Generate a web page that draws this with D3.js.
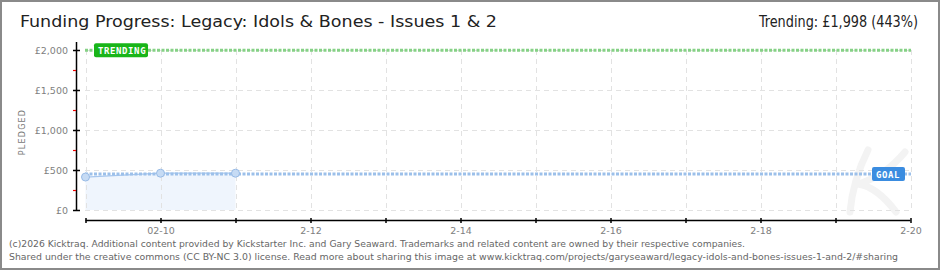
<!DOCTYPE html>
<html>
<head>
<meta charset="utf-8">
<script src="https://cdn.jsdelivr.net/npm/d3@7"></script>
<style>
  html, body { margin: 0; padding: 0; background: #fff; }
  svg { display: block; }
</style>
</head>
<body>
<svg id="chart"></svg>
<script>
// chart values
const pledgeDates = ["2026-02-09", "2026-02-10", "2026-02-11"];
const pledgeValues = [412, 460, 460];
const goalValue = 451;
const trendingValue = 1998;
const yTicks = [0, 500, 1000, 1500, 2000];
const yMinorTicks = [250, 750, 1250, 1750];
const xTickLabels = ["02-10", "2-12", "2-14", "2-16", "2-18", "2-20"];
const xDomain = ["2026-02-09", "2026-02-20"];
const titleText = "Funding Progress: Legacy: Idols & Bones - Issues 1 & 2";
const trendText = "Trending:  £1,998 (443%)";
const footerLines = [
  "(c)2026 Kicktraq. Additional content provided by Kickstarter Inc. and Gary Seaward. Trademarks and related content are owned by their respective companies.",
  "Shared under the creative commons (CC BY-NC 3.0) license. Read more about sharing this image at www.kicktraq.com/projects/garyseaward/legacy-idols-and-bones-issues-1-and-2/#sharing"
];

const w = 940, h = 270;
const svg = d3.select("#chart").attr("width", w).attr("height", h);
const parse = d3.timeParse("%Y-%m-%d");

const x = d3.scaleTime().domain(xDomain.map(parse)).range([85.5, 910.5]);
const y = d3.scaleLinear().domain([0, 2000]).range([210, 50]);

// frame
svg.append("rect")
  .attr("x", 1).attr("y", 1).attr("width", w - 2).attr("height", h - 2)
  .attr("fill", "#fff").attr("stroke", "#8a8a8a").attr("stroke-width", 2);

// watermark (faint script K)
svg.append("path")
  .attr("d", "M868,150 C858,170 852,190 850,212 M905,152 C890,170 872,180 858,184 C872,186 884,196 896,212")
  .attr("fill", "none").attr("stroke", "#f3f3f3").attr("stroke-width", 7)
  .attr("stroke-linecap", "round");

// grid
const days = d3.timeDay.range(parse(xDomain[0]), d3.timeDay.offset(parse(xDomain[1]), 1));
const grid = svg.append("g").attr("stroke", "#e2e2e2").attr("stroke-dasharray", "5,4");
grid.selectAll(".vg").data(days).join("line")
  .attr("x1", d => Math.round(x(d)) + 0.5).attr("x2", d => Math.round(x(d)) + 0.5)
  .attr("y1", 50).attr("y2", 210);
grid.selectAll(".hg").data(yTicks).join("line")
  .attr("x1", 85).attr("x2", 911)
  .attr("y1", d => Math.round(y(d)) + 0.5).attr("y2", d => Math.round(y(d)) + 0.5);

// pledged area
const pts = pledgeDates.map((d, i) => ({ date: parse(d), value: pledgeValues[i] }));
svg.append("path").datum(pts)
  .attr("fill", "#edf4fd").attr("fill-opacity", 0.9)
  .attr("d", d3.area().x(d => x(d.date)).y0(y(0)).y1(d => y(d.value)));
grid.raise();

// trending line
svg.append("line")
  .attr("x1", 85).attr("x2", 911).attr("y1", y(trendingValue)).attr("y2", y(trendingValue))
  .attr("stroke", "#86d186").attr("stroke-width", 3).attr("stroke-dasharray", "3,1.5");

// pledge line
svg.append("path").datum(pts)
  .attr("fill", "none").attr("stroke", "#a8c7ee").attr("stroke-width", 1.2)
  .attr("d", d3.line().x(d => x(d.date)).y(d => y(d.value)));

// goal line
svg.append("line")
  .attr("x1", 85).attr("x2", 911).attr("y1", y(goalValue)).attr("y2", y(goalValue))
  .attr("stroke", "#9cc0ea").attr("stroke-width", 3).attr("stroke-dasharray", "3,1.5");

// points
svg.selectAll(".pt").data(pts).join("circle")
  .attr("cx", d => x(d.date)).attr("cy", d => y(d.value)).attr("r", 4)
  .attr("fill", "#c6dbf4").attr("stroke", "#98bbe6").attr("stroke-width", 1);

// labels on lines
function tag(xl, yc, wd, fill, label) {
  svg.append("rect").attr("x", xl).attr("y", yc - 7).attr("width", wd).attr("height", 14)
    .attr("rx", 2).attr("fill", fill);
  svg.append("text").attr("x", xl + 4).attr("y", yc + 4)
    .attr("font-family", "DejaVu Sans Mono").attr("font-weight", "bold")
    .attr("font-size", 9).attr("fill", "#fff").attr("letter-spacing", 0.6)
    .text(label);
}
tag(94, y(trendingValue), 54, "#19b519", "TRENDING");
tag(872, y(goalValue), 33, "#3a8ce0", "GOAL");

// y axis
const yAxis = svg.append("g").attr("transform", "translate(76,0)");
yAxis.append("line").attr("x1", 0.5).attr("x2", 0.5).attr("y1", y(2000) - 8).attr("y2", y(0))
  .attr("stroke", "#000").attr("stroke-width", 1.5);
yAxis.selectAll(".yt").data(yTicks).join("line")
  .attr("x1", -3).attr("x2", 4)
  .attr("y1", d => Math.round(y(d)) + 0.5).attr("y2", d => Math.round(y(d)) + 0.5)
  .attr("stroke", "#000").attr("stroke-width", 1.5);
yAxis.selectAll(".ym").data(yMinorTicks).join("line")
  .attr("x1", -3).attr("x2", 0)
  .attr("y1", d => Math.round(y(d)) + 0.5).attr("y2", d => Math.round(y(d)) + 0.5)
  .attr("stroke", "#e00").attr("stroke-width", 1.2);
yAxis.selectAll(".yl").data(yTicks).join("text")
  .attr("x", -8).attr("y", d => y(d) + 4)
  .attr("text-anchor", "end")
  .attr("font-family", "DejaVu Sans").attr("font-size", 9.5).attr("fill", "#808080")
  .text(d => "£" + d3.format(",")(d));

svg.append("text")
  .attr("transform", "translate(25,132) rotate(-90)")
  .attr("text-anchor", "middle")
  .attr("font-family", "DejaVu Sans").attr("font-size", 8).attr("fill", "#777")
  .attr("letter-spacing", 1.2)
  .text("PLEDGED");

// x axis
const xAxis = d3.axisBottom(x)
  .ticks(d3.timeDay.every(1))
  .tickSize(5)
  .tickFormat(d => {
    const i = d3.timeDay.count(parse("2026-02-10"), d);
    return i >= 0 && i % 2 === 0 ? xTickLabels[i / 2] : "";
  });
const gx = svg.append("g").attr("transform", "translate(0,218)").call(xAxis);
gx.select(".domain").attr("d", "M85.5,2.5H910.5").attr("stroke", "#000").attr("stroke-width", 1.5);
gx.selectAll(".tick line").attr("stroke", "#000").attr("stroke-width", 1.5);
gx.selectAll(".tick text")
  .attr("y", 9)
  .attr("font-family", "DejaVu Sans").attr("font-size", 9.5).attr("fill", "#808080");

// titles
svg.append("text")
  .attr("x", 20).attr("y", 27)
  .attr("font-family", "DejaVu Sans Condensed, DejaVu Sans").attr("font-size", 15)
  .attr("fill", "#222").attr("textLength", 477).attr("lengthAdjust", "spacingAndGlyphs")
  .text(titleText);
svg.append("text")
  .attr("x", 759).attr("y", 27)
  .attr("font-family", "DejaVu Sans Condensed, DejaVu Sans").attr("font-size", 15)
  .attr("fill", "#222").attr("textLength", 159).attr("lengthAdjust", "spacingAndGlyphs")
  .text(trendText);

// footer
svg.selectAll(".foot").data(footerLines).join("text")
  .attr("x", 9).attr("y", (d, i) => 247 + i * 13)
  .attr("font-family", "DejaVu Sans").attr("font-size", 9.5).attr("fill", "#666")
  .attr("textLength", (d, i) => i === 0 ? 736 : 889)
  .attr("lengthAdjust", "spacingAndGlyphs")
  .text(d => d);
</script>
</body>
</html>
